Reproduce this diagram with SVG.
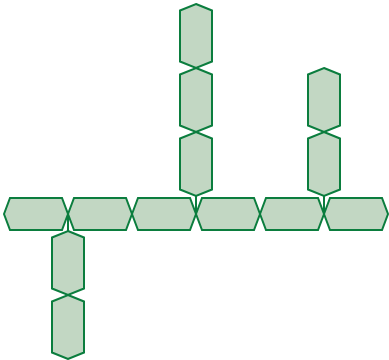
<svg xmlns="http://www.w3.org/2000/svg" xmlns:xlink="http://www.w3.org/1999/xlink" width="389" height="360" viewBox="0 0 389 360">
  <style>
    .hex { fill: #c2d7c3; stroke: #0b7d3e; stroke-width: 2; stroke-linejoin: miter; }
    .conn { stroke: #0b7d3e; stroke-width: 2; fill: none; }
  </style>
  <defs>
    <polygon id="hh" points="0,16 6,0 58,0 64,16 58,32 6,32"/>
    <polygon id="vh" points="16,0 32,6.5 32,57.5 16,64 0,57.5 0,6.5"/>
  </defs>
  <rect width="389" height="360" fill="#ffffff"/>
  <g id="connectors">
    <line class="conn" x1="196" y1="196" x2="196" y2="214"/>
    <line class="conn" x1="324" y1="196" x2="324" y2="214"/>
    <line class="conn" x1="68" y1="214" x2="68" y2="231"/>
  </g>
  <g id="h1"><use href="#hh" class="hex" x="4" y="198"/></g>
  <g id="h2"><use href="#hh" class="hex" x="68" y="198"/></g>
  <g id="h3"><use href="#hh" class="hex" x="132" y="198"/></g>
  <g id="h4"><use href="#hh" class="hex" x="196" y="198"/></g>
  <g id="h5"><use href="#hh" class="hex" x="260" y="198"/></g>
  <g id="h6"><use href="#hh" class="hex" x="324" y="198"/></g>
  <g id="u1"><use href="#vh" class="hex" x="180" y="4"/></g>
  <g id="u2"><use href="#vh" class="hex" x="180" y="68"/></g>
  <g id="u3"><use href="#vh" class="hex" x="180" y="132"/></g>
  <g id="r1"><use href="#vh" class="hex" x="308" y="68"/></g>
  <g id="r2"><use href="#vh" class="hex" x="308" y="132"/></g>
  <g id="d1"><use href="#vh" class="hex" x="52" y="231"/></g>
  <g id="d2"><use href="#vh" class="hex" x="52" y="295"/></g>
</svg>
